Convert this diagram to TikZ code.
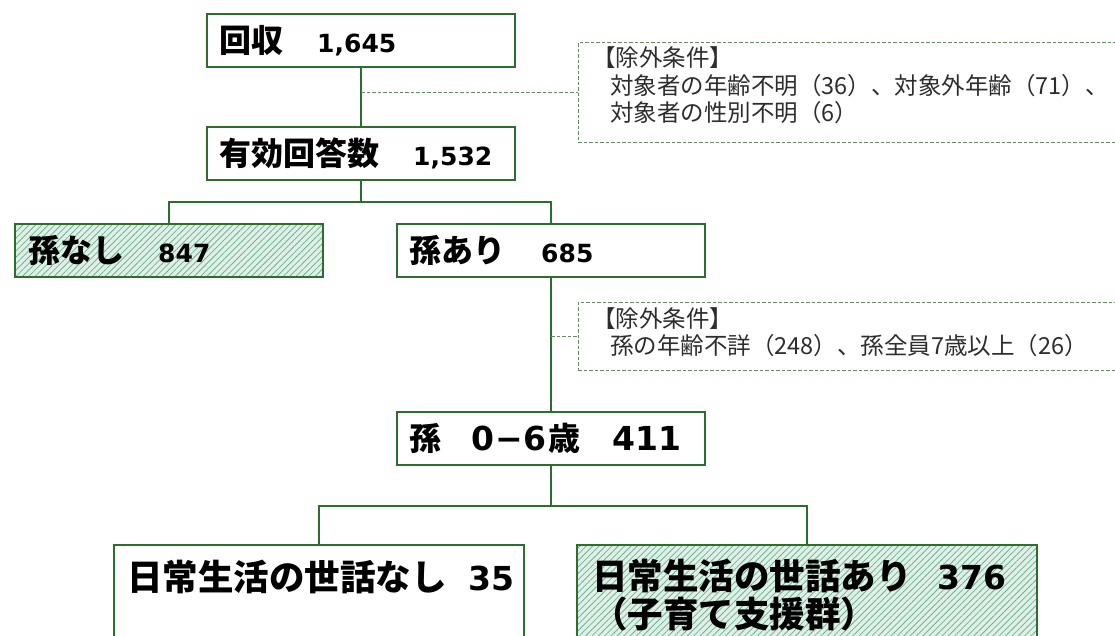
\documentclass[tikz,border=0pt]{standalone}
\usepackage{fontspec}
\setmainfont{Noto Sans CJK JP}
\newfontfamily\jp{Noto Sans CJK JP}
\newfontfamily\dv{DejaVu Sans}
\usetikzlibrary{patterns.meta}
\definecolor{boxgreen}{RGB}{45,110,45}
\definecolor{dashgreen}{RGB}{100,140,100}
\definecolor{mint}{RGB}{222,241,231}
\definecolor{hatch}{RGB}{120,175,145}
\definecolor{condtext}{RGB}{45,45,45}
\begin{document}
\begin{tikzpicture}[x=1pt,y=-1pt,
  mainbox/.style={draw=boxgreen, line width=2pt, rectangle, inner sep=0pt},
  hatched/.style={mainbox, preaction={fill=mint}, pattern={Lines[angle=45,distance=4.5pt,line width=0.8pt]}, pattern color=hatch},
  condbox/.style={draw=dashgreen, line width=1pt, dash pattern=on 3.5pt off 2pt, rectangle, inner sep=0pt},
  link/.style={draw=boxgreen, line width=2pt},
  dlink/.style={draw=dashgreen, line width=1pt, dash pattern=on 3.5pt off 2pt},
  lbl/.style={anchor=base west, inner sep=0pt, text=black, font=\jp\bfseries\fontsize{32}{32}\selectfont},
  big/.style={lbl, font=\jp\bfseries\fontsize{35.5}{38}\selectfont},
  cond/.style={anchor=base west, inner sep=0pt, text=condtext, font=\jp\fontsize{23.5}{27}\selectfont},
]
\clip (0,0) rectangle (1115,636);
% boxes
\node[mainbox, minimum width=308pt, minimum height=53pt] (kaishu) at (361,40.5) {};
\node[mainbox, minimum width=308pt, minimum height=53pt] (yuko) at (361,153.5) {};
\node[hatched, minimum width=308pt, minimum height=53pt] (nashi) at (169,250.5) {};
\node[mainbox, minimum width=308pt, minimum height=53pt] (ari) at (551,250.5) {};
\node[mainbox, minimum width=308pt, minimum height=53pt] (mago) at (551,438.5) {};
\node[mainbox, minimum width=410pt, minimum height=155pt] (care0) at (319,622.5) {};
\node[hatched, minimum width=460pt, minimum height=155pt] (care1) at (807,622.5) {};
\node[condbox, minimum width=552pt, minimum height=100pt] (cond1) at (854,93) {};
\node[condbox, minimum width=552pt, minimum height=68pt] (cond2) at (854,336) {};
% connectors
\coordinate (br1) at (361,202);
\coordinate (br2) at (551,506);
\draw[link] (kaishu.south) -- (yuko.north);
\draw[link] (yuko.south) -- (br1);
\draw[link] (nashi.north) |- (br1) -| (ari.north);
\draw[link] (ari.south) -- (mago.north);
\draw[link] (mago.south) -- (br2);
\draw[link] (care0.north) |- (br2) -| (care1.north);
\draw[dlink] (kaishu.south |- cond1.west) -- (cond1.west);
\draw[dlink] (ari.south |- cond2.west) -- (cond2.west);
% labels
\node[lbl] (t1) at (219,52.5) {回収\hspace{34pt}{\dv\fontsize{25}{25}\selectfont 1,645}};
\node[lbl] (t2) at (219,165.5) {有効回答数\hspace{34pt}{\dv\fontsize{25}{25}\selectfont 1,532}};
\node[lbl] (t3) at (28,262.5) {孫なし\hspace{34pt}{\dv\fontsize{25}{25}\selectfont 847}};
\node[lbl] (t4) at (409,262.5) {孫あり\hspace{36pt}{\dv\fontsize{25}{25}\selectfont 685}};
\node[lbl] (t5) at (409,450.5) {孫\hspace{30pt}{\dv\fontsize{33}{33}\selectfont 0\kern1pt−\kern1pt6}\kern2pt歳\hspace{32pt}{\dv\fontsize{33}{33}\selectfont 411}};
\node[big] (t6) at (127,590) {日常生活の世話なし\hspace{22pt}{\dv\fontsize{33}{33}\selectfont 35}};
\node[big, align=left, anchor=north west] (t7) at (592,559) {日常生活の世話あり\hspace{26pt}{\dv\fontsize{33}{33}\selectfont 376}\\（子育て支援群）};
\node[cond] (c1a) at (592,67) {【除外条件】};
\node[cond] (c1b) at (610,95) {対象者の年齢不明（36）、対象外年齢（71）、};
\node[cond] (c1c) at (610,122) {対象者の性別不明（6）};
\node[cond] (c2a) at (592,327) {【除外条件】};
\node[cond] (c2b) at (610,354) {孫の年齢不詳（248）、孫全員7歳以上（26）};
\end{tikzpicture}
\end{document}
